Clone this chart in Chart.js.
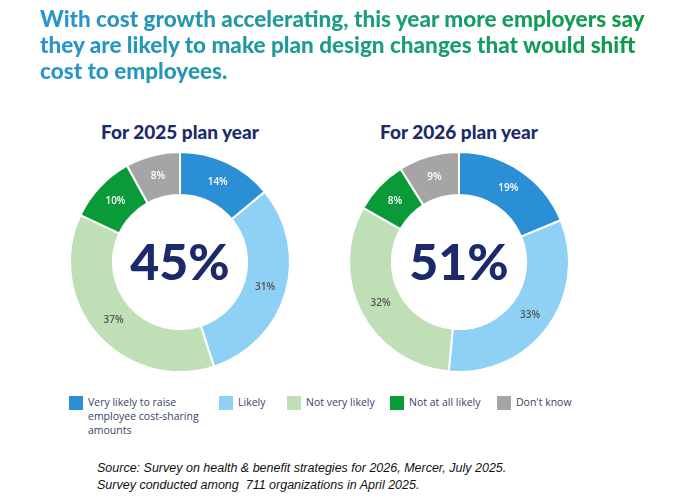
<!DOCTYPE html>
<html>
<head>
<meta charset="utf-8">
<script src="https://cdn.jsdelivr.net/npm/chart.js@4"></script>
<style>
  body { margin: 0; width: 680px; height: 500px; background: #fff; font-family: Lato, sans-serif; position: relative; overflow: hidden; }
  #title { position: absolute; left: 40px; top: 6px; width: 640px; font-size: 22.5px; font-weight: 900; line-height: 26px;
    background: linear-gradient(90deg, #2a93d5 0%, #1a9e7a 55%, #0b9a3c 100%); -webkit-background-clip: text; background-clip: text; color: transparent; }
  .sub { position: absolute; top: 120px; font-size: 19px; font-weight: 900; color: #1c2a6b; width: 240px; text-align: center; font-family: Lato, sans-serif; }
  .box { position: absolute; top: 142px; width: 240px; height: 240px; }
  #legend { position: absolute; top: 395px; left: 69px; font-family: "Open Sans", sans-serif; font-size: 10.5px; color: #3a4366; }
  .item { position: absolute; top: 0; white-space: nowrap; line-height: 14px; }
  .sw { position: absolute; left: 0; top: 1px; width: 14px; height: 14px; }
  .lt { position: absolute; left: 19px; top: 0; }
  #src { position: absolute; left: 97px; top: 460px; font-family: "Liberation Sans", sans-serif; font-style: italic; font-size: 12.5px; line-height: 17px; color: #111; }
</style>
</head>
<body>
<div id="title">With cost growth accelerating, this year more employers say they are likely to make plan design changes that would shift cost to employees.</div>
<div class="sub" style="left:60px">For 2025 plan year</div>
<div class="sub" style="left:339px">For 2026 plan year</div>
<div class="box" style="left:60px"><canvas id="c2025"></canvas></div>
<div class="box" style="left:339px"><canvas id="c2026"></canvas></div>
<div id="legend"></div>
<div id="src">Source: Survey on health &amp; benefit strategies for 2026, Mercer, July 2025.<br>Survey conducted among&nbsp; 711 organizations in April 2025.</div>
<script>
const categories = ['Very likely to raise employee cost-sharing amounts', 'Likely', 'Not very likely', 'Not at all likely', "Don't know"];
const values2025 = [14, 31, 37, 10, 8];
const values2026 = [19, 33, 32, 8, 9];
const centers = ['45%', '51%'];
const colors = ['#2b8fd6', '#8fd0f5', '#bfdfb7', '#0b9a3a', '#a5a5a5'];
const labelColors = ['#ffffff', '#555555', '#555555', '#ffffff', '#ffffff'];

// legend
const legendX = [0, 150, 218, 321, 428];
const legendLines = ['Very likely to raise<br>employee cost-sharing<br>amounts', 'Likely', 'Not very likely', 'Not at all likely', "Don't know"];
const lg = document.getElementById('legend');
categories.forEach((c, i) => {
    const d = document.createElement('div');
    d.className = 'item';
    d.style.left = legendX[i] + 'px';
    d.innerHTML = '<span class="sw" style="background:' + colors[i] + '"></span><span class="lt">' + legendLines[i] + '</span>';
    lg.appendChild(d);
});

const donutLabels = {
    id: 'donutLabels',
    afterDatasetsDraw(chart, args, opts) {
        const ctx = chart.ctx;
        const meta = chart.getDatasetMeta(0);
        ctx.save();
        ctx.textAlign = 'center';
        ctx.textBaseline = 'middle';
        ctx.font = '600 10px "Open Sans", sans-serif';
        meta.data.forEach((arc, i) => {
            const p = arc.tooltipPosition();
            ctx.fillStyle = labelColors[i];
            ctx.fillText(chart.data.datasets[0].data[i] + '%', p.x, p.y);
        });
        ctx.fillStyle = '#1c2a6b';
        ctx.font = '900 50px Lato, sans-serif';
        ctx.fillText(opts.center, meta.data[0].x, meta.data[0].y + 2);
        ctx.restore();
    }
};

function makeDonut(id, data, center) {
    new Chart(document.getElementById(id), {
        type: 'doughnut',
        data: {
            labels: categories,
            datasets: [{ data: data, backgroundColor: colors, borderColor: '#fff', borderWidth: 2 }]
        },
        options: {
            responsive: true,
            maintainAspectRatio: false,
            animation: false,
            cutout: '61%',
            layout: { padding: 9 },
            plugins: {
                legend: { display: false },
                tooltip: { enabled: false },
                donutLabels: { center: center }
            }
        },
        plugins: [donutLabels]
    });
}

makeDonut('c2025', values2025, centers[0]);
makeDonut('c2026', values2026, centers[1]);
</script>
</body>
</html>
